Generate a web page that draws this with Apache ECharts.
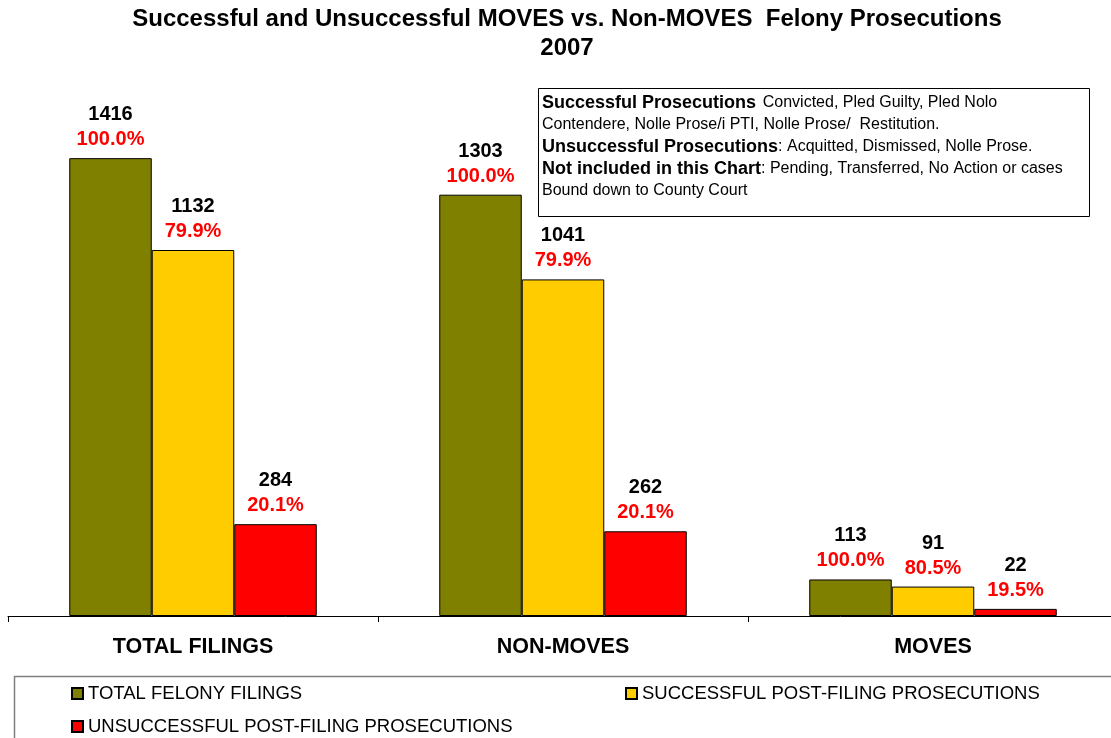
<!DOCTYPE html>
<html>
<head>
<meta charset="utf-8">
<script src="https://cdn.jsdelivr.net/npm/echarts@6/dist/echarts.min.js"></script>
<style>
html,body{margin:0;padding:0;background:#fff;overflow:hidden;}
#chart{width:1118px;height:738px;}
</style>
</head>
<body>
<div id="chart"></div>
<script>
var categories = ['TOTAL FILINGS', 'NON-MOVES', 'MOVES'];
var seriesNames = ['TOTAL FELONY FILINGS', 'SUCCESSFUL POST-FILING PROSECUTIONS', 'UNSUCCESSFUL POST-FILING PROSECUTIONS'];
var totalFilings = [1416, 1303, 113];
var successful = [1132, 1041, 91];
var unsuccessful = [284, 262, 22];
var totalPct = ['100.0%', '100.0%', '100.0%'];
var successfulPct = ['79.9%', '79.9%', '80.5%'];
var unsuccessfulPct = ['20.1%', '20.1%', '19.5%'];
var titleLines = ['Successful and Unsuccessful MOVES vs. Non-MOVES  Felony Prosecutions', '2007'];

var FONT = '"Liberation Sans", Arial, sans-serif';
var colors = ['#808000', '#FFCC00', '#FF0000'];

function makeSeries(idx, values, pcts) {
  return {
    name: seriesNames[idx],
    type: 'bar',
    data: values,
    barWidth: 82.5,
    barGap: '0%',
    itemStyle: { color: colors[idx], borderColor: '#000', borderWidth: 1 },
    label: {
      show: true,
      position: 'top',
      distance: 6,
      formatter: function (p) { return '{v|' + p.value + '}\n{p|' + pcts[p.dataIndex] + '}'; },
      rich: {
        v: { fontFamily: FONT, fontWeight: 'bold', fontSize: 20, color: '#000', lineHeight: 25 },
        p: { fontFamily: FONT, fontWeight: 'bold', fontSize: 20, color: '#FF0000', lineHeight: 25 }
      }
    }
  };
}

var chart = echarts.init(document.getElementById('chart'), null, { renderer: 'canvas' });
var legendBase = {
  orient: 'horizontal', icon: 'rect', itemWidth: 11, itemHeight: 11, padding: 0,
  selectedMode: false,
  textStyle: { fontFamily: FONT, fontSize: 18.5, color: '#000' }
};
chart.setOption({
  animation: false,
  backgroundColor: '#fff',
  textStyle: { fontFamily: FONT },
  grid: { left: 8, top: 131, width: 1110, height: 485, containLabel: false },
  xAxis: {
    type: 'category',
    data: categories,
    axisLine: { show: true, lineStyle: { color: '#000', width: 1 } },
    axisTick: { show: true, length: 6, interval: 0, alignWithLabel: false, lineStyle: { color: '#000' } },
    axisLabel: { margin: 20, fontFamily: FONT, fontWeight: 'bold', fontSize: 21.5, color: '#000', interval: 0 },
    splitLine: { show: false }
  },
  yAxis: { type: 'value', min: 0, max: 1500, show: false, splitLine: { show: false } },
  legend: [
    Object.assign({}, legendBase, { data: [seriesNames[0]], left: 71, top: 684 }),
    Object.assign({}, legendBase, { data: [seriesNames[1]], left: 625, top: 684 }),
    Object.assign({}, legendBase, { data: [seriesNames[2]], left: 71, top: 717 })
  ],
  graphic: [
    {
      type: 'text', z: 10,
      style: {
        x: 567, y: 5, text: titleLines.join('\n'), textAlign: 'center', textVerticalAlign: 'top',
        font: 'bold 24px ' + FONT, lineHeight: 29, fill: '#000'
      }
    },
    {
      type: 'rect', z: 1,
      shape: { x: 538.5, y: 88.5, width: 551, height: 128 },
      style: { fill: '#fff', stroke: '#000', lineWidth: 1 }
    },
    {
      type: 'text', z: 10,
      style: {
        x: 542, y: 92, textVerticalAlign: 'top',
        text: '{b|Successful Prosecutions}  {n|Convicted, Pled Guilty, Pled Nolo}\n' +
              '{n|Contendere, Nolle Prose/i PTI, Nolle Prose/  Restitution.}\n' +
              '{b|Unsuccessful Prosecutions}{n|: Acquitted, Dismissed, Nolle Prose.}\n' +
              '{b|Not included in this Chart}{n|: Pending, Transferred, No Action or cases}\n' +
              '{n|Bound down to County Court}',
        rich: {
          b: { fontFamily: FONT, fontWeight: 'bold', fontSize: 18, fill: '#000', lineHeight: 22 },
          n: { fontFamily: FONT, fontSize: 16, fill: '#000', lineHeight: 22 }
        }
      }
    },
    {
      type: 'rect', z: 1,
      shape: { x: 14.5, y: 676.5, width: 1110, height: 70 },
      style: { fill: 'none', stroke: '#808080', lineWidth: 1.5 }
    }
  ],
  series: [
    makeSeries(0, totalFilings, totalPct),
    makeSeries(1, successful, successfulPct),
    makeSeries(2, unsuccessful, unsuccessfulPct)
  ]
});
</script>
</body>
</html>
